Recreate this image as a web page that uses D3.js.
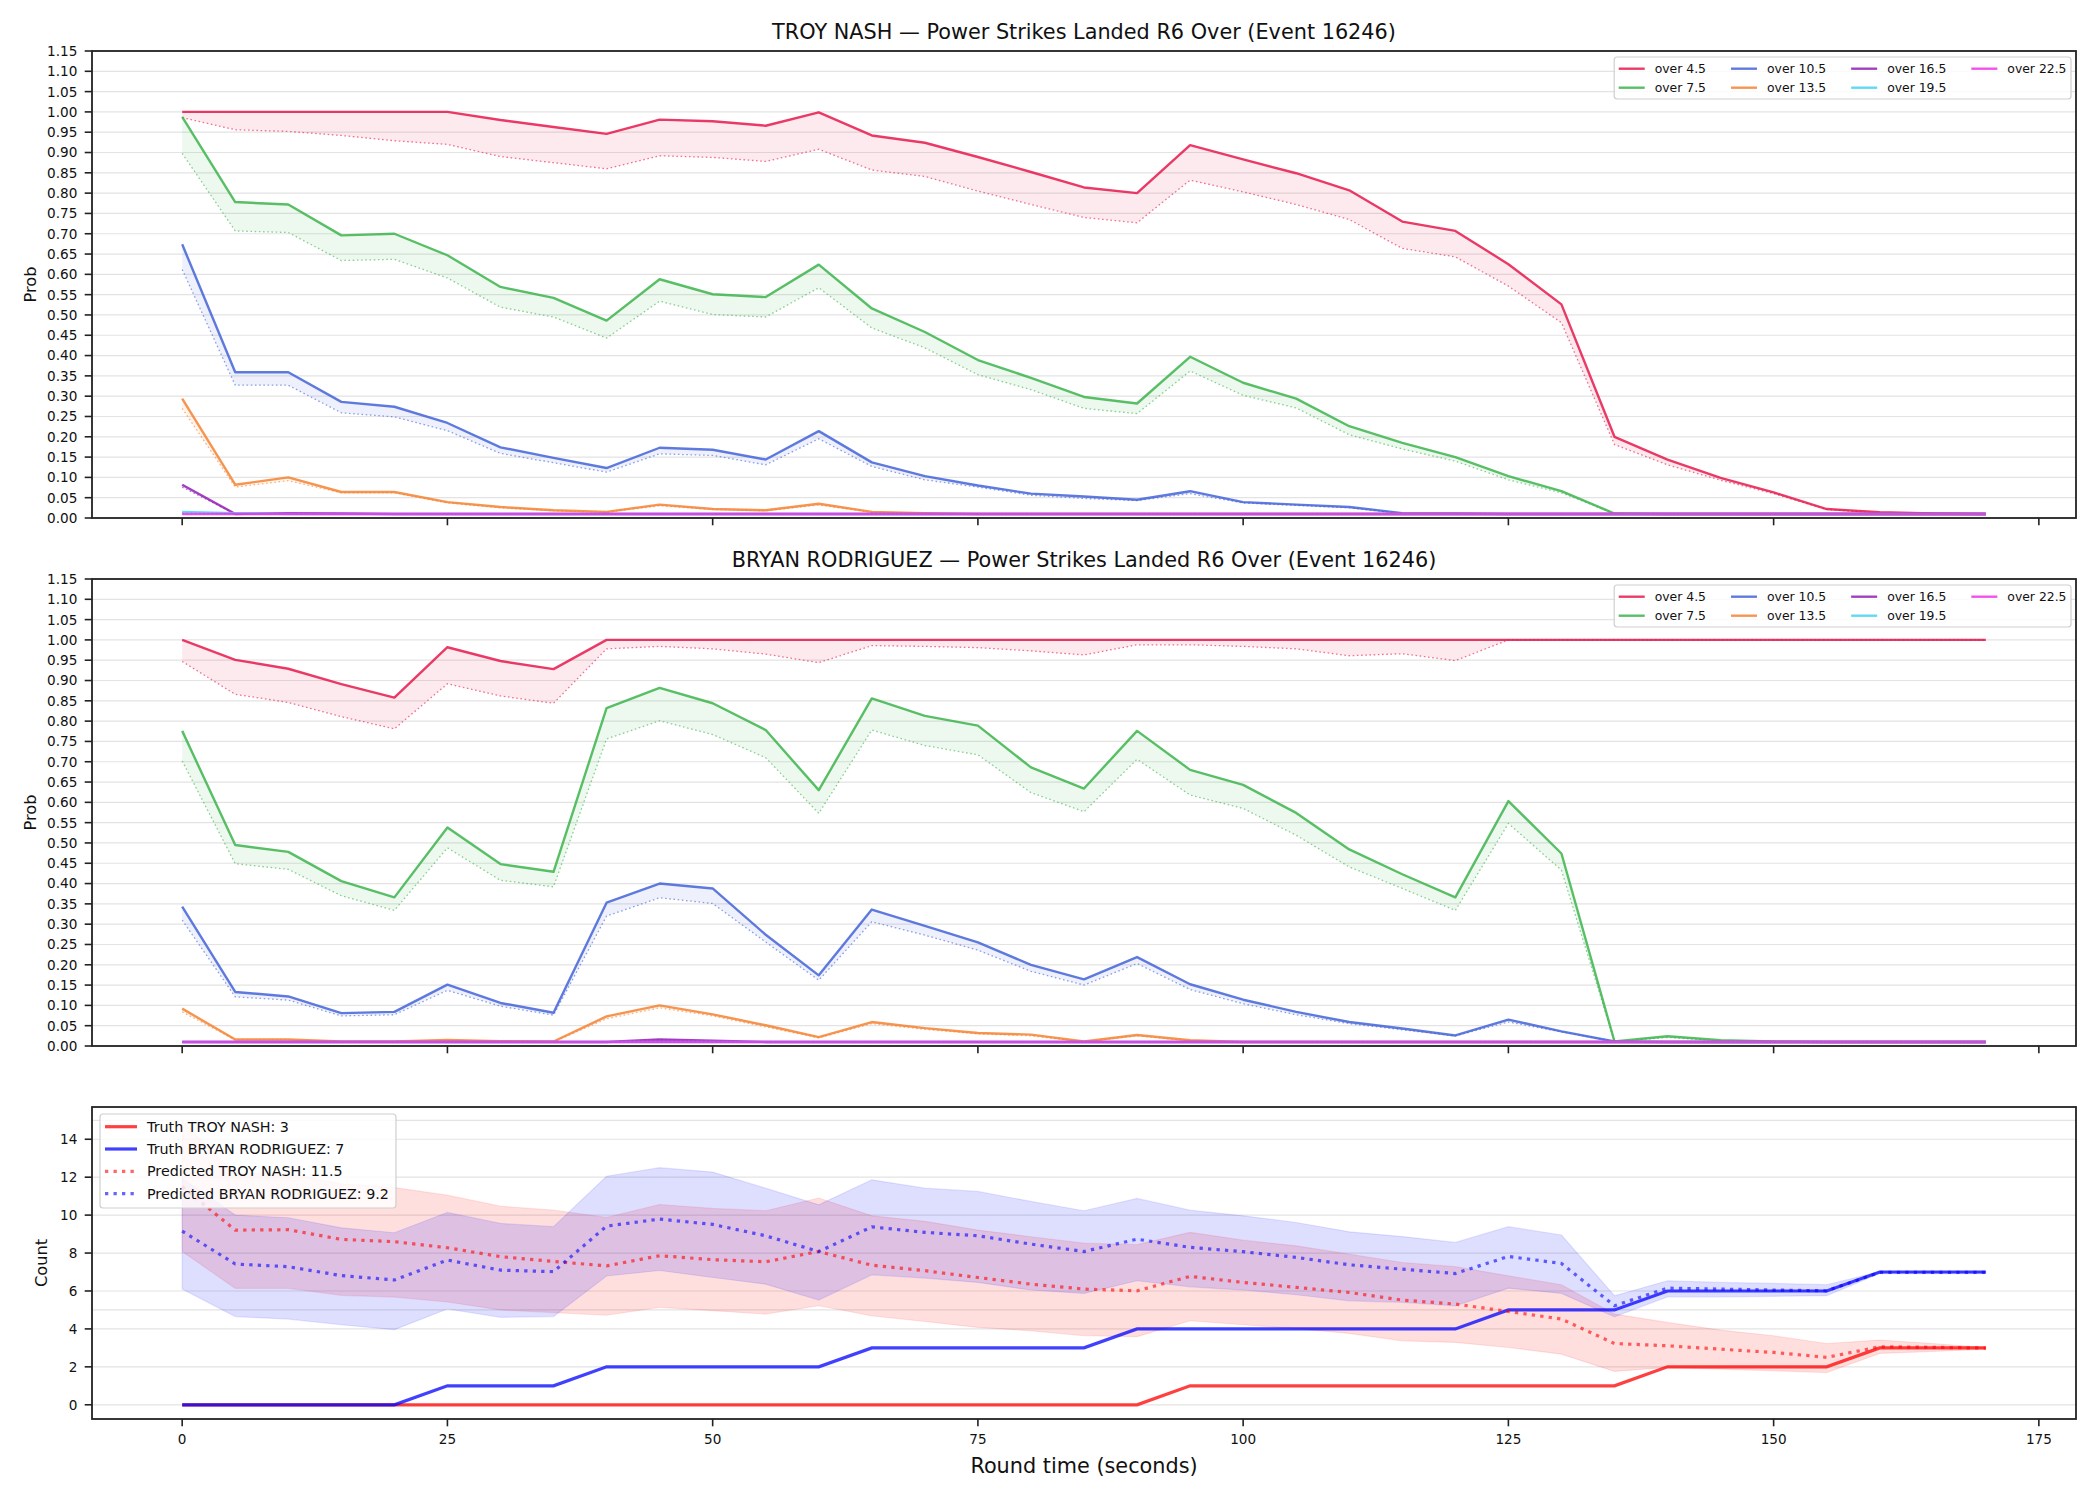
<!DOCTYPE html>
<html>
<head>
<meta charset="utf-8">
<script src="https://cdn.jsdelivr.net/npm/d3@7"></script>
<style>
	body { margin: 0; background: #ffffff; }
	svg { display: block; font-family: "DejaVu Sans", sans-serif; }
</style>
</head>
<body>
<svg id="chart" width="2100" height="1500"></svg>
<script>

//############
//### data ###
//############
var roundTimes = [0, 5, 10, 15, 20, 25, 30, 35, 40, 45, 50, 55, 60, 65, 70, 75, 80, 85, 90, 95, 100, 105, 110, 115, 120, 125, 130, 135, 140, 145, 150, 155, 160, 165, 170];

var overLabels = ["over 4.5", "over 7.5", "over 10.5", "over 13.5", "over 16.5", "over 19.5", "over 22.5"];
var overColors = ["#e6194b", "#3cb44b", "#4363d8", "#f58231", "#911eb4", "#42d4f4", "#f032e6"];

var probTicks = [0.00, 0.05, 0.10, 0.15, 0.20, 0.25, 0.30, 0.35, 0.40, 0.45, 0.50, 0.55, 0.60, 0.65, 0.70, 0.75, 0.80, 0.85, 0.90, 0.95, 1.00, 1.05, 1.10, 1.15];
var timeTicks = [0, 25, 50, 75, 100, 125, 150, 175];
var countTicks = [0, 2, 4, 6, 8, 10, 12, 14];
var countExtraGrid = [5, 15];

// TROY NASH, solid = current, dotted = second estimate
var troyOver4_5 = [1.0, 1.0, 1.0, 1.0, 1.0, 1.0, 0.980, 0.963, 0.946, 0.981, 0.977, 0.966, 0.999, 0.942, 0.924, 0.889, 0.852, 0.814, 0.800, 0.918, 0.883, 0.849, 0.807, 0.730, 0.707, 0.625, 0.526, 0.200, 0.144, 0.099, 0.063, 0.022, 0.014, 0.011, 0.010];
var troyOver4_5Dot = [0.986, 0.956, 0.952, 0.942, 0.929, 0.920, 0.890, 0.875, 0.860, 0.892, 0.888, 0.878, 0.908, 0.857, 0.841, 0.805, 0.772, 0.740, 0.727, 0.832, 0.803, 0.772, 0.735, 0.664, 0.643, 0.571, 0.481, 0.181, 0.131, 0.093, 0.060, 0.021, 0.012, 0.011, 0.010];
var troyOver7_5 = [0.988, 0.778, 0.772, 0.696, 0.700, 0.647, 0.569, 0.542, 0.486, 0.588, 0.551, 0.544, 0.624, 0.516, 0.458, 0.389, 0.345, 0.298, 0.282, 0.397, 0.333, 0.294, 0.226, 0.185, 0.150, 0.103, 0.066, 0.011, 0.010, 0.010, 0.010, 0.010, 0.010, 0.010, 0.010];
var troyOver7_5Dot = [0.898, 0.707, 0.703, 0.634, 0.637, 0.591, 0.519, 0.495, 0.443, 0.534, 0.501, 0.495, 0.567, 0.468, 0.419, 0.353, 0.316, 0.270, 0.257, 0.362, 0.302, 0.271, 0.205, 0.170, 0.140, 0.094, 0.062, 0.011, 0.010, 0.010, 0.010, 0.010, 0.010, 0.010, 0.010];
var troyOver10_5 = [0.674, 0.359, 0.359, 0.286, 0.274, 0.234, 0.174, 0.148, 0.123, 0.173, 0.168, 0.144, 0.214, 0.137, 0.103, 0.080, 0.060, 0.053, 0.045, 0.066, 0.039, 0.033, 0.027, 0.012, 0.011, 0.010, 0.010, 0.010, 0.010, 0.010, 0.010, 0.010, 0.010, 0.010, 0.010];
var troyOver10_5Dot = [0.612, 0.327, 0.327, 0.259, 0.249, 0.215, 0.159, 0.136, 0.113, 0.158, 0.154, 0.131, 0.195, 0.127, 0.094, 0.076, 0.056, 0.048, 0.043, 0.060, 0.037, 0.031, 0.025, 0.011, 0.010, 0.010, 0.010, 0.010, 0.010, 0.010, 0.010, 0.010, 0.010, 0.010, 0.010];
var troyOver13_5 = [0.294, 0.082, 0.100, 0.064, 0.064, 0.039, 0.027, 0.019, 0.015, 0.033, 0.022, 0.019, 0.035, 0.015, 0.012, 0.010, 0.010, 0.010, 0.010, 0.010, 0.010, 0.010, 0.010, 0.010, 0.010, 0.010, 0.010, 0.010, 0.010, 0.010, 0.010, 0.010, 0.010, 0.010, 0.010];
var troyOver13_5Dot = [0.270, 0.076, 0.092, 0.062, 0.062, 0.037, 0.025, 0.018, 0.014, 0.030, 0.021, 0.018, 0.032, 0.014, 0.011, 0.010, 0.010, 0.010, 0.010, 0.010, 0.010, 0.010, 0.010, 0.010, 0.010, 0.010, 0.010, 0.010, 0.010, 0.010, 0.010, 0.010, 0.010, 0.010, 0.010];
var troyOver16_5 = [0.082, 0.010, 0.012, 0.011, 0.010, 0.010, 0.010, 0.010, 0.010, 0.010, 0.010, 0.010, 0.010, 0.010, 0.010, 0.010, 0.010, 0.010, 0.010, 0.010, 0.010, 0.010, 0.010, 0.010, 0.010, 0.010, 0.010, 0.010, 0.010, 0.010, 0.010, 0.010, 0.010, 0.010, 0.010];
var troyOver16_5Dot = [0.076, 0.010, 0.011, 0.010, 0.010, 0.010, 0.010, 0.010, 0.010, 0.010, 0.010, 0.010, 0.010, 0.010, 0.010, 0.010, 0.010, 0.010, 0.010, 0.010, 0.010, 0.010, 0.010, 0.010, 0.010, 0.010, 0.010, 0.010, 0.010, 0.010, 0.010, 0.010, 0.010, 0.010, 0.010];
var troyOver19_5 = [0.015, 0.012, 0.010, 0.010, 0.010, 0.010, 0.010, 0.010, 0.010, 0.010, 0.010, 0.010, 0.010, 0.010, 0.010, 0.010, 0.010, 0.010, 0.010, 0.010, 0.010, 0.010, 0.010, 0.010, 0.010, 0.010, 0.010, 0.010, 0.010, 0.010, 0.010, 0.010, 0.010, 0.010, 0.010];
var troyOver19_5Dot = [0.014, 0.011, 0.010, 0.010, 0.010, 0.010, 0.010, 0.010, 0.010, 0.010, 0.010, 0.010, 0.010, 0.010, 0.010, 0.010, 0.010, 0.010, 0.010, 0.010, 0.010, 0.010, 0.010, 0.010, 0.010, 0.010, 0.010, 0.010, 0.010, 0.010, 0.010, 0.010, 0.010, 0.010, 0.010];
var troyOver22_5 = [0.010, 0.010, 0.010, 0.010, 0.010, 0.010, 0.010, 0.010, 0.010, 0.010, 0.010, 0.010, 0.010, 0.010, 0.010, 0.010, 0.010, 0.010, 0.010, 0.010, 0.010, 0.010, 0.010, 0.010, 0.010, 0.010, 0.010, 0.010, 0.010, 0.010, 0.010, 0.010, 0.010, 0.010, 0.010];
var troyOver22_5Dot = [0.010, 0.010, 0.010, 0.010, 0.010, 0.010, 0.010, 0.010, 0.010, 0.010, 0.010, 0.010, 0.010, 0.010, 0.010, 0.010, 0.010, 0.010, 0.010, 0.010, 0.010, 0.010, 0.010, 0.010, 0.010, 0.010, 0.010, 0.010, 0.010, 0.010, 0.010, 0.010, 0.010, 0.010, 0.010];

// BRYAN RODRIGUEZ
var bryanOver4_5 = [1.0, 0.951, 0.929, 0.891, 0.858, 0.982, 0.948, 0.928, 1.0, 1.0, 1.0, 1.0, 1.0, 1.0, 1.0, 1.0, 1.0, 1.0, 1.0, 1.0, 1.0, 1.0, 1.0, 1.0, 1.0, 1.0, 1.0, 1.0, 1.0, 1.0, 1.0, 1.0, 1.0, 1.0, 1.0];
var bryanOver4_5Dot = [0.947, 0.866, 0.846, 0.811, 0.781, 0.892, 0.862, 0.844, 0.978, 0.984, 0.978, 0.965, 0.944, 0.986, 0.984, 0.981, 0.973, 0.963, 0.988, 0.988, 0.984, 0.978, 0.961, 0.966, 0.949, 1.0, 1.0, 1.0, 1.0, 1.0, 1.0, 1.0, 1.0, 1.0, 1.0];
var bryanOver7_5 = [0.776, 0.495, 0.478, 0.406, 0.366, 0.538, 0.448, 0.429, 0.832, 0.882, 0.844, 0.778, 0.630, 0.856, 0.813, 0.789, 0.686, 0.634, 0.776, 0.680, 0.643, 0.574, 0.484, 0.423, 0.366, 0.603, 0.474, 0.011, 0.024, 0.014, 0.011, 0.010, 0.010, 0.010, 0.010];
var bryanOver7_5Dot = [0.702, 0.449, 0.435, 0.370, 0.334, 0.488, 0.408, 0.392, 0.756, 0.801, 0.767, 0.710, 0.573, 0.778, 0.740, 0.717, 0.624, 0.577, 0.706, 0.618, 0.585, 0.519, 0.441, 0.388, 0.334, 0.548, 0.433, 0.011, 0.021, 0.013, 0.010, 0.010, 0.010, 0.010, 0.010];
var bryanOver10_5 = [0.343, 0.133, 0.122, 0.081, 0.084, 0.151, 0.106, 0.082, 0.353, 0.400, 0.388, 0.274, 0.174, 0.336, 0.296, 0.255, 0.200, 0.164, 0.219, 0.152, 0.114, 0.084, 0.059, 0.043, 0.026, 0.065, 0.036, 0.011, 0.010, 0.010, 0.010, 0.010, 0.010, 0.010, 0.010];
var bryanOver10_5Dot = [0.310, 0.121, 0.113, 0.074, 0.077, 0.137, 0.098, 0.076, 0.320, 0.365, 0.351, 0.256, 0.162, 0.306, 0.273, 0.236, 0.184, 0.150, 0.203, 0.139, 0.104, 0.077, 0.055, 0.040, 0.025, 0.059, 0.035, 0.011, 0.010, 0.010, 0.010, 0.010, 0.010, 0.010, 0.010];
var bryanOver13_5 = [0.092, 0.016, 0.016, 0.011, 0.011, 0.015, 0.012, 0.011, 0.073, 0.100, 0.078, 0.051, 0.022, 0.059, 0.044, 0.032, 0.028, 0.011, 0.027, 0.014, 0.010, 0.010, 0.010, 0.010, 0.010, 0.010, 0.010, 0.010, 0.010, 0.010, 0.010, 0.010, 0.010, 0.010, 0.010];
var bryanOver13_5Dot = [0.084, 0.015, 0.015, 0.010, 0.010, 0.013, 0.011, 0.010, 0.067, 0.094, 0.074, 0.047, 0.020, 0.055, 0.041, 0.030, 0.025, 0.010, 0.025, 0.013, 0.010, 0.010, 0.010, 0.010, 0.010, 0.010, 0.010, 0.010, 0.010, 0.010, 0.010, 0.010, 0.010, 0.010, 0.010];
var bryanOver16_5 = [0.010, 0.010, 0.010, 0.010, 0.010, 0.010, 0.010, 0.010, 0.010, 0.016, 0.013, 0.010, 0.010, 0.010, 0.010, 0.010, 0.010, 0.010, 0.010, 0.010, 0.010, 0.010, 0.010, 0.010, 0.010, 0.010, 0.010, 0.010, 0.010, 0.010, 0.010, 0.010, 0.010, 0.010, 0.010];
var bryanOver16_5Dot = [0.010, 0.010, 0.010, 0.010, 0.010, 0.010, 0.010, 0.010, 0.010, 0.015, 0.012, 0.010, 0.010, 0.010, 0.010, 0.010, 0.010, 0.010, 0.010, 0.010, 0.010, 0.010, 0.010, 0.010, 0.010, 0.010, 0.010, 0.010, 0.010, 0.010, 0.010, 0.010, 0.010, 0.010, 0.010];
var bryanOver19_5 = [0.010, 0.010, 0.010, 0.010, 0.010, 0.010, 0.010, 0.010, 0.010, 0.010, 0.010, 0.010, 0.010, 0.010, 0.010, 0.010, 0.010, 0.010, 0.010, 0.010, 0.010, 0.010, 0.010, 0.010, 0.010, 0.010, 0.010, 0.010, 0.010, 0.010, 0.010, 0.010, 0.010, 0.010, 0.010];
var bryanOver19_5Dot = [0.010, 0.010, 0.010, 0.010, 0.010, 0.010, 0.010, 0.010, 0.010, 0.010, 0.010, 0.010, 0.010, 0.010, 0.010, 0.010, 0.010, 0.010, 0.010, 0.010, 0.010, 0.010, 0.010, 0.010, 0.010, 0.010, 0.010, 0.010, 0.010, 0.010, 0.010, 0.010, 0.010, 0.010, 0.010];
var bryanOver22_5 = [0.010, 0.010, 0.010, 0.010, 0.010, 0.010, 0.010, 0.010, 0.010, 0.010, 0.010, 0.010, 0.010, 0.010, 0.010, 0.010, 0.010, 0.010, 0.010, 0.010, 0.010, 0.010, 0.010, 0.010, 0.010, 0.010, 0.010, 0.010, 0.010, 0.010, 0.010, 0.010, 0.010, 0.010, 0.010];
var bryanOver22_5Dot = [0.010, 0.010, 0.010, 0.010, 0.010, 0.010, 0.010, 0.010, 0.010, 0.010, 0.010, 0.010, 0.010, 0.010, 0.010, 0.010, 0.010, 0.010, 0.010, 0.010, 0.010, 0.010, 0.010, 0.010, 0.010, 0.010, 0.010, 0.010, 0.010, 0.010, 0.010, 0.010, 0.010, 0.010, 0.010];

// counts
var truthTroy = [0, 0, 0, 0, 0, 0, 0, 0, 0, 0, 0, 0, 0, 0, 0, 0, 0, 0, 0, 1, 1, 1, 1, 1, 1, 1, 1, 1, 2, 2, 2, 2, 3, 3, 3];
var truthBryan = [0, 0, 0, 0, 0, 1, 1, 1, 2, 2, 2, 2, 2, 3, 3, 3, 3, 3, 4, 4, 4, 4, 4, 4, 4, 5, 5, 5, 6, 6, 6, 6, 7, 7, 7];
var predTroy = [11.5, 9.21, 9.23, 8.72, 8.6, 8.28, 7.81, 7.56, 7.32, 7.86, 7.65, 7.54, 8.08, 7.36, 7.07, 6.71, 6.36, 6.1, 6.01, 6.77, 6.45, 6.19, 5.92, 5.52, 5.31, 4.92, 4.52, 3.23, 3.11, 2.93, 2.76, 2.5, 3.06, 3.03, 2.99];
var predTroyHigh = [14.95, 12.2, 12.2, 11.65, 11.45, 11.05, 10.47, 10.26, 9.88, 10.56, 10.35, 10.23, 10.9, 9.96, 9.67, 9.21, 8.86, 8.52, 8.44, 9.09, 8.68, 8.38, 7.94, 7.5, 7.28, 6.8, 6.33, 4.78, 4.34, 3.94, 3.64, 3.23, 3.41, 3.23, 3.02];
var predTroyLow = [8.08, 6.14, 6.14, 5.77, 5.68, 5.42, 5.0, 4.86, 4.72, 5.14, 4.96, 4.78, 5.22, 4.69, 4.39, 4.08, 3.9, 3.64, 3.59, 4.43, 4.22, 4.02, 3.76, 3.37, 3.29, 3.02, 2.67, 1.76, 1.97, 1.88, 1.79, 1.7, 2.71, 2.81, 2.93];
var predBryan = [9.16, 7.42, 7.28, 6.81, 6.58, 7.63, 7.1, 7.02, 9.42, 9.79, 9.51, 8.91, 8.08, 9.38, 9.09, 8.91, 8.47, 8.08, 8.73, 8.3, 8.07, 7.77, 7.38, 7.15, 6.92, 7.82, 7.45, 5.22, 6.15, 6.1, 6.05, 6.01, 6.98, 6.98, 6.98];
var predBryanHigh = [11.95, 10.0, 9.86, 9.33, 9.07, 10.14, 9.56, 9.39, 12.05, 12.5, 12.27, 11.42, 10.54, 11.86, 11.42, 11.25, 10.72, 10.23, 10.88, 10.26, 9.96, 9.61, 9.12, 8.87, 8.56, 9.39, 8.95, 5.75, 6.54, 6.45, 6.4, 6.33, 7.02, 7.02, 7.02];
var predBryanLow = [6.1, 4.65, 4.52, 4.22, 3.96, 5.05, 4.61, 4.65, 6.79, 7.08, 6.71, 6.36, 5.52, 6.85, 6.68, 6.45, 6.05, 5.87, 6.54, 6.22, 6.05, 5.8, 5.48, 5.4, 5.22, 6.15, 5.87, 4.64, 5.69, 5.69, 5.72, 5.75, 6.92, 6.92, 6.92];

var countLegendLabels = ["Truth TROY NASH: 3", "Truth BRYAN RODRIGUEZ: 7", "Predicted TROY NASH: 11.5", "Predicted BRYAN RODRIGUEZ: 9.2"];

var troySeries = [
	[troyOver4_5, troyOver4_5Dot], [troyOver7_5, troyOver7_5Dot], [troyOver10_5, troyOver10_5Dot],
	[troyOver13_5, troyOver13_5Dot], [troyOver16_5, troyOver16_5Dot], [troyOver19_5, troyOver19_5Dot],
	[troyOver22_5, troyOver22_5Dot]
];
var bryanSeries = [
	[bryanOver4_5, bryanOver4_5Dot], [bryanOver7_5, bryanOver7_5Dot], [bryanOver10_5, bryanOver10_5Dot],
	[bryanOver13_5, bryanOver13_5Dot], [bryanOver16_5, bryanOver16_5Dot], [bryanOver19_5, bryanOver19_5Dot],
	[bryanOver22_5, bryanOver22_5Dot]
];

//##############
//### layout ###
//##############
var axLeft = 92, axRight = 2076;
var tickLen = 7.3, tickPad = 7.3;
var tickFont = 13.6;
var gridColor = "#e3e3e3";
var spineColor = "#222222";

var svg = d3.select("#chart");

svg.append("rect")
	.attr("width", 2100)
	.attr("height", 1500)
	.attr("fill", "#ffffff");

var x = d3.scaleLinear()
	.domain([-8.5, 178.5])
	.range([axLeft, axRight]);

var drawFrame = function(g, y, top, bottom, yTicks, yFormat, showXLabels){

	// spines
	g.append("rect")
		.attr("x", axLeft)
		.attr("y", top)
		.attr("width", axRight - axLeft)
		.attr("height", bottom - top)
		.attr("fill", "none")
		.attr("stroke", spineColor)
		.attr("stroke-width", 1.8);

	// y ticks
	var yt = g.append("g").selectAll("g").data(yTicks).enter().append("g");
	yt.append("line")
		.attr("x1", axLeft - tickLen)
		.attr("x2", axLeft)
		.attr("y1", function(d){ return y(d); })
		.attr("y2", function(d){ return y(d); })
		.attr("stroke", spineColor)
		.attr("stroke-width", 1.6);
	yt.append("text")
		.attr("x", axLeft - tickLen - tickPad)
		.attr("y", function(d){ return y(d); })
		.attr("dy", "0.36em")
		.attr("text-anchor", "end")
		.attr("font-size", tickFont)
		.attr("fill", "#111")
		.text(yFormat);

	// x ticks
	var xt = g.append("g").selectAll("g").data(timeTicks).enter().append("g");
	xt.append("line")
		.attr("x1", function(d){ return x(d); })
		.attr("x2", function(d){ return x(d); })
		.attr("y1", bottom)
		.attr("y2", bottom + tickLen)
		.attr("stroke", spineColor)
		.attr("stroke-width", 1.6);
	if(showXLabels){
		xt.append("text")
			.attr("x", function(d){ return x(d); })
			.attr("y", bottom + tickLen + tickPad + 10.2)
			.attr("text-anchor", "middle")
			.attr("font-size", tickFont)
			.attr("fill", "#111")
			.text(function(d){ return d; });
	}
};

var drawGrid = function(g, y, values){
	g.append("g").selectAll("line").data(values).enter().append("line")
		.attr("x1", axLeft)
		.attr("x2", axRight)
		.attr("y1", function(d){ return y(d); })
		.attr("y2", function(d){ return y(d); })
		.attr("stroke", gridColor)
		.attr("stroke-width", 1.2);
};

var drawProbPanel = function(top, bottom, title, series){

	var g = svg.append("g");

	var y = d3.scaleLinear()
		.domain([0, 1.15])
		.range([bottom, top]);

	drawGrid(g, y, probTicks);

	var line = function(values){
		return d3.line()
			.x(function(d, i){ return x(roundTimes[i]); })
			.y(function(d){ return y(d); })(values);
	};

	series.forEach(function(pair, k){
		var solid = pair[0], dotted = pair[1];
		var color = overColors[k];

		g.append("path")
			.attr("d", d3.area()
				.x(function(d, i){ return x(roundTimes[i]); })
				.y0(function(d, i){ return y(dotted[i]); })
				.y1(function(d){ return y(d); })(solid))
			.attr("fill", color)
			.attr("fill-opacity", 0.09);

		g.append("path")
			.attr("d", line(solid))
			.attr("fill", "none")
			.attr("stroke", color)
			.attr("stroke-opacity", 0.85)
			.attr("stroke-width", 2.4)
			.attr("stroke-linejoin", "round");

		g.append("path")
			.attr("d", line(dotted))
			.attr("fill", "none")
			.attr("stroke", color)
			.attr("stroke-opacity", 0.6)
			.attr("stroke-width", 1.3)
			.attr("stroke-dasharray", "1.6,2.6");
	});

	drawFrame(g, y, top, bottom, probTicks, function(d){ return d.toFixed(2); }, false);

	g.append("text")
		.attr("x", (axLeft + axRight) / 2)
		.attr("y", top - 12.5)
		.attr("text-anchor", "middle")
		.attr("font-size", 20.8)
		.attr("fill", "#111")
		.text(title);

	g.append("text")
		.attr("transform", "translate(36," + ((top + bottom) / 2) + ") rotate(-90)")
		.attr("text-anchor", "middle")
		.attr("font-size", 16.2)
		.attr("fill", "#111")
		.text("Prob");

	// legend, 4 columns filled column-wise
	var fs = 12.4, handleLen = 26, handlePad = 10, colSpacing = 25, borderPad = 4.5, rowStep = 19;
	var leg = g.append("g");
	var box = leg.append("rect");
	var items = leg.selectAll("g.item").data(overLabels).enter().append("g").attr("class", "item");
	var texts = items.append("text")
		.attr("font-size", fs)
		.attr("fill", "#111")
		.attr("dy", "0.36em")
		.text(function(d){ return d; });

	var widths = [];
	texts.each(function(d){ widths.push(this.getComputedTextLength()); });
	var nCols = 4, nRows = 2;
	var colWidths = [];
	for(var c = 0; c < nCols; c++){
		var w = 0;
		for(var r = 0; r < nRows; r++){
			var idx = c * nRows + r;
			if(idx < widths.length) w = Math.max(w, widths[idx]);
		}
		colWidths.push(w);
	}
	var boxWidth = borderPad * 2 + d3.sum(colWidths) + nCols * (handleLen + handlePad) + (nCols - 1) * colSpacing;
	var boxRight = axRight - 5;
	var boxLeft = boxRight - boxWidth;
	var boxTop = top + 6;
	var boxHeight = 42;

	box
		.attr("x", boxLeft)
		.attr("y", boxTop)
		.attr("width", boxWidth)
		.attr("height", boxHeight)
		.attr("rx", 3)
		.attr("fill", "#ffffff")
		.attr("fill-opacity", 0.8)
		.attr("stroke", "#cfcfcf")
		.attr("stroke-width", 1.2);

	items.each(function(d, i){
		var c = Math.floor(i / nRows), r = i % nRows;
		var cx = boxLeft + borderPad + d3.sum(colWidths.slice(0, c)) + c * (handleLen + handlePad + colSpacing);
		var cy = boxTop + 11.7 + r * rowStep;
		var item = d3.select(this);
		item.append("line")
			.attr("x1", cx)
			.attr("x2", cx + handleLen)
			.attr("y1", cy)
			.attr("y2", cy)
			.attr("stroke", overColors[i])
			.attr("stroke-opacity", 0.85)
			.attr("stroke-width", 2.4);
		item.select("text")
			.attr("x", cx + handleLen + handlePad)
			.attr("y", cy);
	});
};

drawProbPanel(51, 518, "TROY NASH \u2014 Power Strikes Landed R6 Over (Event 16246)", troySeries);
drawProbPanel(579, 1046, "BRYAN RODRIGUEZ \u2014 Power Strikes Landed R6 Over (Event 16246)", bryanSeries);

//##################
//### count panel ###
//##################
(function(){
	var top = 1107, bottom = 1419;
	var g = svg.append("g");

	var y = d3.scaleLinear()
		.domain([-0.75, 15.7])
		.range([bottom, top]);

	drawGrid(g, y, countTicks.concat(countExtraGrid));

	var bands = [
		{ low: predTroyLow, high: predTroyHigh, color: "#ff0000" },
		{ low: predBryanLow, high: predBryanHigh, color: "#0000ff" }
	];
	bands.forEach(function(b){
		g.append("path")
			.attr("d", d3.area()
				.x(function(d, i){ return x(roundTimes[i]); })
				.y0(function(d, i){ return y(b.low[i]); })
				.y1(function(d){ return y(d); })(b.high))
			.attr("fill", b.color)
			.attr("fill-opacity", 0.13)
			.attr("stroke", b.color)
			.attr("stroke-opacity", 0.1)
			.attr("stroke-width", 1.2);
	});

	var countLines = [
		{ values: truthTroy, color: "#ff0000", opacity: 0.75, dash: null },
		{ values: truthBryan, color: "#0000ff", opacity: 0.75, dash: null },
		{ values: predTroy, color: "#ff0000", opacity: 0.6, dash: "3.3,5.2" },
		{ values: predBryan, color: "#0000ff", opacity: 0.6, dash: "3.3,5.2" }
	];

	countLines.forEach(function(l){
		g.append("path")
			.attr("d", d3.line()
				.x(function(d, i){ return x(roundTimes[i]); })
				.y(function(d){ return y(d); })(l.values))
			.attr("fill", "none")
			.attr("stroke", l.color)
			.attr("stroke-opacity", l.opacity)
			.attr("stroke-width", 3.2)
			.attr("stroke-dasharray", l.dash);
	});

	drawFrame(g, y, top, bottom, countTicks, function(d){ return d; }, true);

	g.append("text")
		.attr("transform", "translate(47," + ((top + bottom) / 2) + ") rotate(-90)")
		.attr("text-anchor", "middle")
		.attr("font-size", 16.2)
		.attr("fill", "#111")
		.text("Count");

	g.append("text")
		.attr("x", (axLeft + axRight) / 2)
		.attr("y", 1473)
		.attr("text-anchor", "middle")
		.attr("font-size", 20.8)
		.attr("fill", "#111")
		.text("Round time (seconds)");

	// legend upper left
	var fs = 14.3, boxLeft = axLeft + 8, boxTop = top + 7, rowStep = 22.3;
	var leg = g.append("g");
	var box = leg.append("rect");
	var maxW = 0;
	countLines.forEach(function(l, i){
		var cy = boxTop + 12.7 + i * rowStep;
		leg.append("line")
			.attr("x1", boxLeft + 5)
			.attr("x2", boxLeft + 37)
			.attr("y1", cy)
			.attr("y2", cy)
			.attr("stroke", l.color)
			.attr("stroke-opacity", l.opacity)
			.attr("stroke-width", 3.2)
			.attr("stroke-dasharray", l.dash);
		var t = leg.append("text")
			.attr("x", boxLeft + 47)
			.attr("y", cy)
			.attr("dy", "0.36em")
			.attr("font-size", fs)
			.attr("fill", "#111")
			.text(countLegendLabels[i]);
		maxW = Math.max(maxW, t.node().getComputedTextLength());
	});
	box
		.attr("x", boxLeft)
		.attr("y", boxTop)
		.attr("width", 47 + maxW + 7)
		.attr("height", 94)
		.attr("rx", 3)
		.attr("fill", "#ffffff")
		.attr("fill-opacity", 0.8)
		.attr("stroke", "#cfcfcf")
		.attr("stroke-width", 1.2);
})();

</script>
</body>
</html>
